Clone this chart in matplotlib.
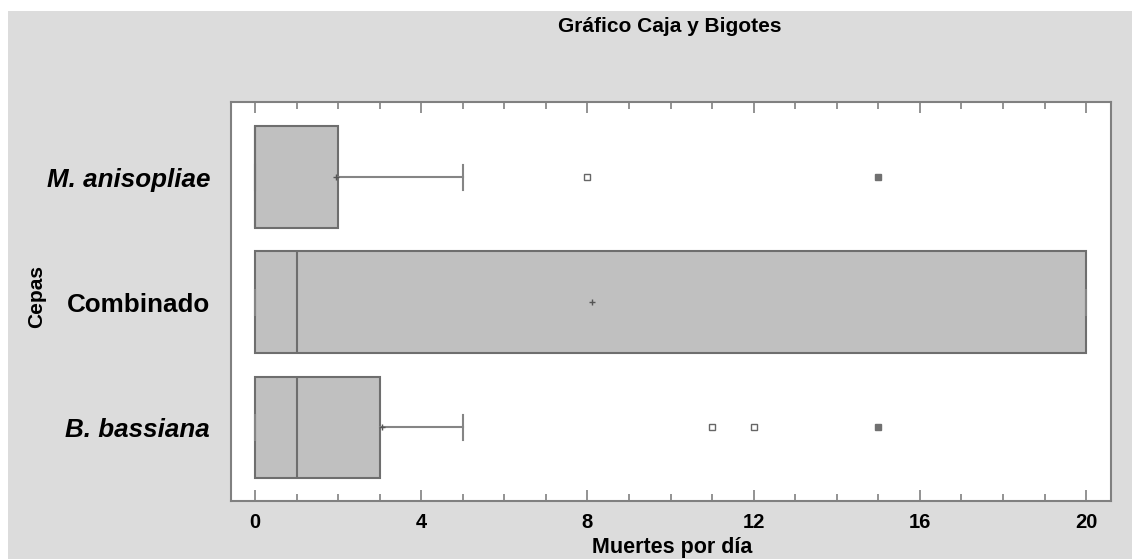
import matplotlib
matplotlib.use("Agg")
import matplotlib.pyplot as plt
from matplotlib.patches import Rectangle

# box plot summary per strain (bottom to top)
cepas = ["B. bassiana", "Combinado", "M. anisopliae"]
q1 = [0, 0, 0]
mediana = [1, 1, 0]
q3 = [3, 20, 2]
bigote_inf = [0, 0, 0]
bigote_sup = [5, 20, 5]
medias = [3.05, 8.1, 1.95]
atipicos = [[11, 12], [], [8]]          # outliers
atipicos_lejanos = [[15], [], [15]]     # far outliers

x_ticks = [0, 4, 8, 12, 16, 20]

plt.rcParams['font.family'] = ['Liberation Sans', 'DejaVu Sans']

fig = plt.figure(figsize=(11.32, 5.59), dpi=100)
fig.patch.set_facecolor("white")
# gray panel behind everything
fig.patches.append(Rectangle((8 / 1132, 0), 1, 1 - 11 / 559, transform=fig.transFigure,
                             facecolor="#dcdcdc", edgecolor="none", zorder=-10))

ax = fig.add_axes([231 / 1132, 1 - 501 / 559, 880 / 1132, 399 / 559])
ax.set_facecolor("white")

stats = []
for i in range(len(cepas)):
    stats.append({
        "label": cepas[i],
        "q1": q1[i], "med": mediana[i], "q3": q3[i],
        "whislo": bigote_inf[i], "whishi": bigote_sup[i],
        "mean": medias[i], "fliers": atipicos[i],
    })

pos = [1, 2, 3]
ax.bxp(stats, positions=pos, orientation="horizontal", widths=0.81, capwidths=0.2,
       patch_artist=True, showmeans=True, showfliers=True,
       boxprops=dict(facecolor="#c0c0c0", edgecolor="#6e6e6e", linewidth=1.5),
       medianprops=dict(color="#6e6e6e", linewidth=1.5),
       whiskerprops=dict(color="#858585", linewidth=1.5),
       capprops=dict(color="#858585", linewidth=1.5),
       meanprops=dict(marker="+", markeredgecolor="#555555", markersize=4, markeredgewidth=1),
       flierprops=dict(marker="s", markerfacecolor="white", markeredgecolor="#666666",
                       markersize=4, markeredgewidth=1))

for p, lejos in zip(pos, atipicos_lejanos):
    if lejos:
        ax.plot(lejos, [p] * len(lejos), "s", color="#707070", markersize=4)

ax.set_xlim(-0.58, 20.6)
ax.set_ylim(0.41, 3.6)
ax.set_xticks(x_ticks)
ax.set_xticks(range(0, 21), minor=True)
ax.tick_params(axis="x", which="both", direction="in", top=True, color="#808080", width=1.2)
ax.tick_params(axis="x", which="major", length=8, pad=9, labelsize=14.5)
ax.tick_params(axis="x", which="minor", length=5)
for lbl in ax.get_xticklabels():
    lbl.set_fontweight("bold")

ax.set_yticks(pos)
ax.set_yticklabels(cepas)
ax.tick_params(axis="y", length=0, pad=15, labelsize=18.7)
for lbl in ax.get_yticklabels():
    lbl.set_fontweight("bold")
    if lbl.get_text() != "Combinado":
        lbl.set_fontstyle("italic")

for s in ax.spines.values():
    s.set_color("#808080")
    s.set_linewidth(1.5)

fig.text(670 / 1132, 1 - 27 / 559, "Gráfico Caja y Bigotes", ha="center", va="center",
         fontsize=15, fontweight="bold")
fig.text(672 / 1132, 1 - 547 / 559, "Muertes por día", ha="center", va="center",
         fontsize=15.5, fontweight="bold")
fig.text(37 / 1132, 1 - 297 / 559, "Cepas", ha="center", va="center", rotation=90,
         fontsize=15, fontweight="bold")

fig.savefig("out.png", dpi=100)
